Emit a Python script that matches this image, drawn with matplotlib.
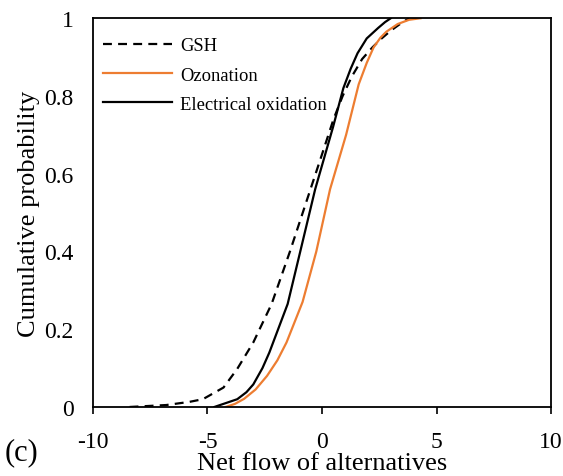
import matplotlib
matplotlib.use("Agg")
import matplotlib.pyplot as plt

plt.rcParams['font.family'] = ['Liberation Serif', 'DejaVu Serif']

# Cumulative distributions of net flow for each treatment alternative
gsh_x = [-8.4, -6.8, -5.8, -5.2, -4.9, -4.3, -3.7, -3.0, -2.2, -1.4, -0.6, 0.0, 0.5, 0.9, 1.3, 1.75, 2.2, 2.6, 3.0, 3.4, 3.8]
gsh_y = [0.0, 0.005, 0.013, 0.02, 0.03, 0.05, 0.098, 0.166, 0.265, 0.40, 0.543, 0.65, 0.74, 0.80, 0.85, 0.895, 0.925, 0.948, 0.968, 0.985, 1.0]

ozo_x = [-4.2, -3.8, -3.4, -2.9, -2.4, -1.95, -1.55, -0.85, -0.25, 0.35, 1.05, 1.6, 1.95, 2.25, 2.55, 2.8, 3.3, 3.8, 4.3]
ozo_y = [0.0, 0.008, 0.021, 0.045, 0.08, 0.12, 0.166, 0.27, 0.40, 0.56, 0.70, 0.83, 0.885, 0.925, 0.95, 0.965, 0.985, 0.996, 1.0]

elec_x = [-4.7, -4.2, -3.7, -3.3, -3.0, -2.6, -2.3, -1.5, -0.95, -0.3, 0.48, 0.93, 1.25, 1.55, 1.95, 2.45, 2.75, 3.0]
elec_y = [0.0, 0.01, 0.02, 0.038, 0.058, 0.10, 0.14, 0.265, 0.40, 0.56, 0.72, 0.82, 0.87, 0.91, 0.948, 0.975, 0.99, 1.0]

series_labels = ["GSH", "Ozonation", "Electrical oxidation"]
x_ticks = [-10, -5, 0, 5, 10]
y_ticks = [0, 0.2, 0.4, 0.6, 0.8, 1]
y_tick_labels = ["0", "0.2", "0.4", "0.6", "0.8", "1"]

fig = plt.figure(figsize=(5.63, 4.77), dpi=100)
ax = fig.add_axes([0.165, 0.1447, 0.814, 0.815])

lw = 1.6
ax.plot(gsh_x, gsh_y, color="black", lw=lw, linestyle=(0, (4, 2.8)), label=series_labels[0])
ax.plot(ozo_x, ozo_y, color="#ED7D31", lw=lw, label=series_labels[1])
ax.plot(elec_x, elec_y, color="black", lw=lw, label=series_labels[2])

ax.set_xlim(-10, 10)
ax.set_ylim(0, 1)
ax.set_xticks(x_ticks)
ax.set_xticklabels([str(t) for t in x_ticks])
ax.set_yticks(y_ticks)
ax.set_yticklabels(y_tick_labels)

ax.tick_params(axis="x", direction="out", length=5, width=1.2, labelsize=17, pad=12)
ax.tick_params(axis="y", length=0, labelsize=17, pad=14)
for sp in ax.spines.values():
    sp.set_linewidth(1.3)

ax.set_xlabel("Net flow of alternatives", fontsize=19)
ax.set_ylabel("Cumulative probability", fontsize=19)
ax.xaxis.set_label_coords(0.5, -0.115)
ax.yaxis.set_label_coords(-0.115, 0.5)

ax.legend(loc="upper left", frameon=False, fontsize=13.4,
          handlelength=3.7, handletextpad=0.45, labelspacing=0.66,
          borderaxespad=0.0, bbox_to_anchor=(0.006, 0.97))

fig.text(0.008, 0.05, "(c)", fontsize=22, va="center")

fig.savefig("out.png", dpi=100)
